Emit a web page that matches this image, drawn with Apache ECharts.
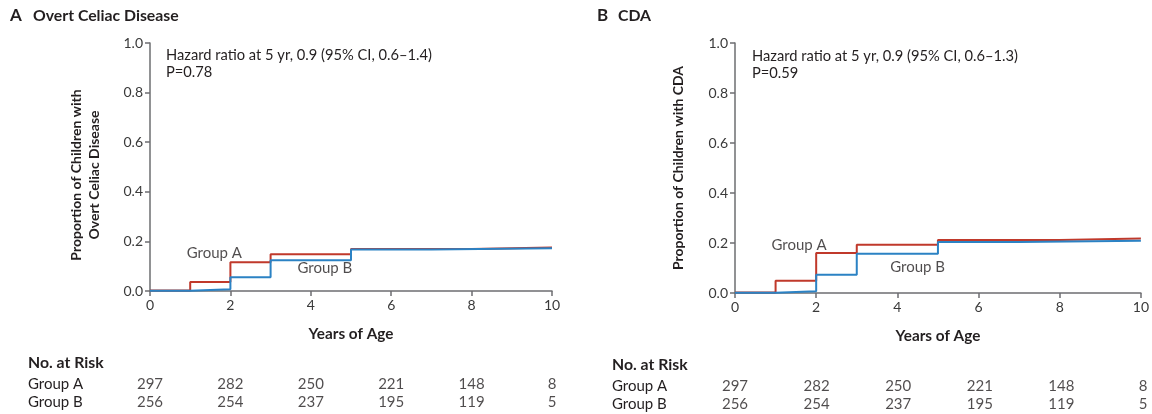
<!DOCTYPE html>
<html>
<head>
<meta charset="utf-8">
<script src="https://cdn.jsdelivr.net/npm/echarts@6/dist/echarts.min.js"></script>
<style>
html,body{margin:0;padding:0;background:#fff;}
#chart{width:1152px;height:414px;}
</style>
</head>
<body>
<div id="chart"></div>
<script>
// ---- Data ----
const yTicks = [0, 0.2, 0.4, 0.6, 0.8, 1.0];
const xTicks = [0, 2, 4, 6, 8, 10];
const riskYears = [0, 2, 4, 6, 8, 10];
const groups = ['Group A', 'Group B'];

// Panel A: Overt Celiac Disease (step starts at x, holds until next x)
const celiacA = [[0, 0.002], [1, 0.036], [2, 0.116], [3, 0.148], [5, 0.169], [8, 0.175], [10, 0.175]];
const celiacB = [[0, 0.001], [1, 0.007], [2, 0.055], [3, 0.124], [5, 0.167], [7, 0.172], [10, 0.172]];
const riskCeliacA = [297, 282, 250, 221, 148, 8];
const riskCeliacB = [256, 254, 237, 195, 119, 5];

// Panel B: CDA
const cdaA = [[0, 0.002], [1, 0.049], [2, 0.160], [3, 0.193], [5, 0.212], [8, 0.218], [10, 0.218]];
const cdaB = [[0, 0.001], [1, 0.007], [2, 0.073], [3, 0.157], [5, 0.204], [7, 0.209], [10, 0.209]];
const riskCdaA = [297, 282, 250, 221, 148, 8];
const riskCdaB = [256, 254, 237, 195, 119, 5];

// Annotation anchor points (data coordinates)
const labelsA = [{ name: 'Group A', value: [1.6, 0.152] }, { name: 'Group B', value: [4.35, 0.094] }];
const labelsB = [{ name: 'Group A', value: [1.58, 0.19] }, { name: 'Group B', value: [4.5, 0.104] }];

// ---- Styles ----
const FONT = 'Lato';
const RED = '#c0392b';
const BLUE = '#2b82c4';
const AXIS = '#6d6e71';
const TXT = '#231f20';

function xAxisPlot(gridIndex) {
  return {
    gridIndex, type: 'value', min: 0, max: 10, interval: 2,
    name: 'Years of Age', nameLocation: 'middle', nameGap: 36,
    nameTextStyle: { fontFamily: FONT, fontWeight: 'bold', fontSize: 15.3, color: TXT },
    axisLine: { show: true, onZero: false, lineStyle: { color: AXIS, width: 1.5 } },
    axisTick: { show: true, length: 5, lineStyle: { color: AXIS, width: 1.5 } },
    axisLabel: { fontFamily: FONT, fontSize: 14, color: '#3a3a3a', margin: 7 },
    splitLine: { show: false }
  };
}
function yAxisPlot(gridIndex) {
  return {
    gridIndex, type: 'value', min: 0, max: 1, interval: 0.2,
    axisLine: { show: true, lineStyle: { color: AXIS, width: 1.5 } },
    axisTick: { show: true, length: 5, lineStyle: { color: AXIS, width: 1.5 } },
    axisLabel: { fontFamily: FONT, fontSize: 14, color: '#3a3a3a', margin: 7,
      formatter: v => v.toFixed(1) },
    splitLine: { show: false }
  };
}
function xAxisTable(gridIndex) {
  return { gridIndex, type: 'value', min: 0, max: 10, show: false };
}
function yAxisTable(gridIndex, margin) {
  return {
    gridIndex, type: 'category', data: groups, inverse: true,
    axisLine: { show: false }, axisTick: { show: false }, splitLine: { show: false },
    axisLabel: { interval: 0, hideOverlap: false, fontFamily: FONT, fontSize: 15, color: TXT, align: 'left', margin }
  };
}
function stepSeries(data, color, xi, yi) {
  return {
    type: 'line', step: 'end', data, xAxisIndex: xi, yAxisIndex: yi,
    symbol: 'none', lineStyle: { color, width: 2 }, z: 3, silent: true
  };
}
function riskSeries(values, group, xi, yi) {
  return {
    type: 'scatter', xAxisIndex: xi, yAxisIndex: yi, symbolSize: 0, silent: true,
    data: values.map((v, i) => [riskYears[i], group, v]),
    label: { show: true, position: 'inside', formatter: p => String(p.value[2]),
      fontFamily: FONT, fontSize: 15, color: TXT }
  };
}
function labelSeries(data, xi, yi) {
  return {
    type: 'scatter', xAxisIndex: xi, yAxisIndex: yi, symbolSize: 0, silent: true,
    data,
    label: { show: true, position: 'inside', formatter: p => p.name,
      fontFamily: FONT, fontSize: 15, color: TXT }
  };
}

const option = {
  animation: false,
  grid: [
    { left: 150, right: 600, top: 43, bottom: 123 },
    { left: 735, right: 9, top: 43, bottom: 121 },
    { left: 150, right: 600, top: 375, height: 36 },
    { left: 735, right: 9, top: 377, height: 36 }
  ],
  xAxis: [xAxisPlot(0), xAxisPlot(1), xAxisTable(2), xAxisTable(3)],
  yAxis: [yAxisPlot(0), yAxisPlot(1), yAxisTable(2, 122), yAxisTable(3, 123)],
  series: [
    stepSeries(celiacA, RED, 0, 0),
    stepSeries(celiacB, BLUE, 0, 0),
    stepSeries(cdaA, RED, 1, 1),
    stepSeries(cdaB, BLUE, 1, 1),
    labelSeries(labelsA, 0, 0),
    labelSeries(labelsB, 1, 1),
    riskSeries(riskCeliacA, 'Group A', 2, 2),
    riskSeries(riskCeliacB, 'Group B', 2, 2),
    riskSeries(riskCdaA, 'Group A', 3, 3),
    riskSeries(riskCdaB, 'Group B', 3, 3)
  ],
  graphic: [
    { type: 'text', left: 10, top: 7, style: { text: 'A', fontFamily: FONT, fontWeight: 'bold', fontSize: 17, fill: TXT } },
    { type: 'text', left: 33, top: 8, style: { text: 'Overt Celiac Disease', fontFamily: FONT, fontWeight: 'bold', fontSize: 15.8, fill: TXT } },
    { type: 'text', left: 597, top: 7, style: { text: 'B', fontFamily: FONT, fontWeight: 'bold', fontSize: 17, fill: TXT } },
    { type: 'text', left: 618, top: 8, style: { text: 'CDA', fontFamily: FONT, fontWeight: 'bold', fontSize: 15.8, fill: TXT } },
    { type: 'text', left: 166, top: 47, style: { text: 'Hazard ratio at 5 yr, 0.9 (95% CI, 0.6\u20131.4)\nP=0.78', lineHeight: 17, fontFamily: FONT, fontSize: 14.7, fill: TXT } },
    { type: 'text', left: 752, top: 48, style: { text: 'Hazard ratio at 5 yr, 0.9 (95% CI, 0.6\u20131.3)\nP=0.59', lineHeight: 17, fontFamily: FONT, fontSize: 14.7, fill: TXT } },
    { type: 'text', x: 85, y: 175, rotation: Math.PI / 2,
      style: { text: 'Proportion of Children with\nOvert Celiac Disease', align: 'center', verticalAlign: 'middle', lineHeight: 18, fontFamily: FONT, fontWeight: 'bold', fontSize: 14, fill: TXT } },
    { type: 'text', x: 678, y: 168, rotation: Math.PI / 2,
      style: { text: 'Proportion of Children with CDA', align: 'center', verticalAlign: 'middle', fontFamily: FONT, fontWeight: 'bold', fontSize: 14, fill: TXT } },
    { type: 'text', left: 28, top: 355, style: { text: 'No. at Risk', fontFamily: FONT, fontWeight: 'bold', fontSize: 15.8, fill: TXT } },
    { type: 'text', left: 612, top: 357, style: { text: 'No. at Risk', fontFamily: FONT, fontWeight: 'bold', fontSize: 15.8, fill: TXT } }
  ]
};

const chart = echarts.init(document.getElementById('chart'), null, { renderer: 'canvas' });
chart.setOption(option);
</script>
</body>
</html>
